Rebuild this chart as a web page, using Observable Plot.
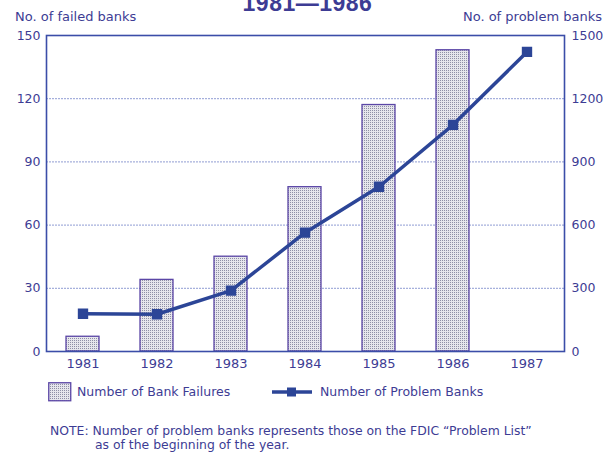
<!DOCTYPE html>
<html>
<head>
<meta charset="utf-8">
<script src="https://cdn.jsdelivr.net/npm/d3@7"></script>
<script src="https://cdn.jsdelivr.net/npm/@observablehq/plot@0.6"></script>
<style>
  html, body { margin: 0; padding: 0; background: #fff; }
  body { width: 615px; height: 453px; position: relative; overflow: hidden; font-family: "DejaVu Sans", "Liberation Sans", Arial, sans-serif; color: #3d3c94; }
  .abs { position: absolute; white-space: nowrap; }
  #chart { position: absolute; left: 0; top: 0; }
</style>
</head>
<body>
<div class="abs" id="title" style="left:0;width:615px;text-align:center;top:-10px;font-family:'Liberation Sans',Arial,sans-serif;font-size:23px;font-weight:bold;letter-spacing:0.5px;">1981—1986</div>
<div class="abs" style="left:15px;top:9px;font-size:13px;">No. of failed banks</div>
<div class="abs" style="right:13px;top:9px;font-size:13px;">No. of problem banks</div>
<div id="chart"></div>
<div class="abs" id="legend" style="left:48px;top:382px;font-size:12.5px;"></div>
<div class="abs" style="left:50px;top:424px;font-size:12.4px;line-height:14px;">NOTE: Number of problem banks represents those on the FDIC “Problem List”<br><span style="padding-left:45px;">as of the beginning of the year.</span></div>
<script>
const years = ["1981", "1982", "1983", "1984", "1985", "1986", "1987"];
const barYears = ["1981", "1982", "1983", "1984", "1985", "1986"];
const failedBanks = [7, 34, 45, 78, 117, 143];
const problemBanks = [179, 177, 289, 564, 782, 1076, 1422];
const leftTicks = [0, 30, 60, 90, 120, 150];
const gridTicks = [30, 60, 90, 120];

const barData = barYears.map((y, i) => ({year: y, failed: failedBanks[i]}));
const lineData = years.map((y, i) => ({year: y, problem: problemBanks[i]}));

const ink = "#3d3c94";
const lineColor = "#2c4597";

const defs = () => {
  const d = d3.create("svg:defs");
  const p = d.append("pattern").attr("id", "stip").attr("patternUnits", "userSpaceOnUse")
    .attr("width", 2).attr("height", 2);
  p.append("rect").attr("width", 2).attr("height", 2).attr("fill", "#e6e6ec");
  p.append("rect").attr("width", 1).attr("height", 1).attr("fill", "#8f8fa6");
  return d.node();
};

const chart = Plot.plot({
  width: 615,
  height: 378,
  marginTop: 35,
  marginLeft: 46,
  marginRight: 51,
  marginBottom: 27,
  style: {fontFamily: "DejaVu Sans, Liberation Sans, Arial, sans-serif", fontSize: "12.5px", color: ink, background: "transparent"},
  x: {domain: years, paddingInner: 0.55, paddingOuter: 0.275, label: null},
  y: {domain: [0, 150], label: null},
  marks: [
    defs,
    Plot.ruleY(gridTicks, {stroke: "#7383c8", strokeWidth: 0.8, strokeDasharray: "2,1"}),
    Plot.barY(barData, {x: "year", y: "failed", fill: "url(#stip)", stroke: "#5b46a6", strokeWidth: 1.3}),
    Plot.lineY(lineData, {x: "year", y: d => d.problem / 10, stroke: lineColor, strokeWidth: 3.5}),
    Plot.dot(lineData, {x: "year", y: d => d.problem / 10, symbol: "square", r: 5, fill: lineColor, stroke: lineColor}),
    Plot.frame({stroke: "#3b4da8", strokeWidth: 1.6}),
    Plot.axisY({anchor: "left", ticks: leftTicks, tickSize: 0, tickPadding: 6, label: null, fontSize: 12.5}),
    Plot.axisY({anchor: "right", ticks: leftTicks, tickSize: 0, tickPadding: 7, tickFormat: d => String(d * 10), label: null, fontSize: 12.5}),
    Plot.axisX({tickSize: 0, tickPadding: 7, label: null, fontSize: 13})
  ]
});
document.getElementById("chart").appendChild(chart);

// legend
const leg = document.getElementById("legend");
leg.innerHTML = `
<svg width="24" height="20" style="position:absolute;left:0;top:0;">
  <defs><pattern id="stip2" patternUnits="userSpaceOnUse" width="2" height="2">
    <rect width="2" height="2" fill="#e6e6ec"/><rect width="1" height="1" fill="#8f8fa6"/></pattern></defs>
  <rect x="0.75" y="0.75" width="22" height="18" fill="url(#stip2)" stroke="#5b46a6" stroke-width="1.3"/>
</svg>
<span style="position:absolute;left:29px;top:2px;">Number of Bank Failures</span>
<svg width="42" height="20" style="position:absolute;left:224px;top:0;">
  <line x1="0" x2="40" y1="10" y2="10" stroke="${lineColor}" stroke-width="3.5"/>
  <rect x="15" y="5.5" width="9" height="9" fill="${lineColor}"/>
</svg>
<span style="position:absolute;left:272px;top:2px;">Number of Problem Banks</span>`;
</script>
</body>
</html>
